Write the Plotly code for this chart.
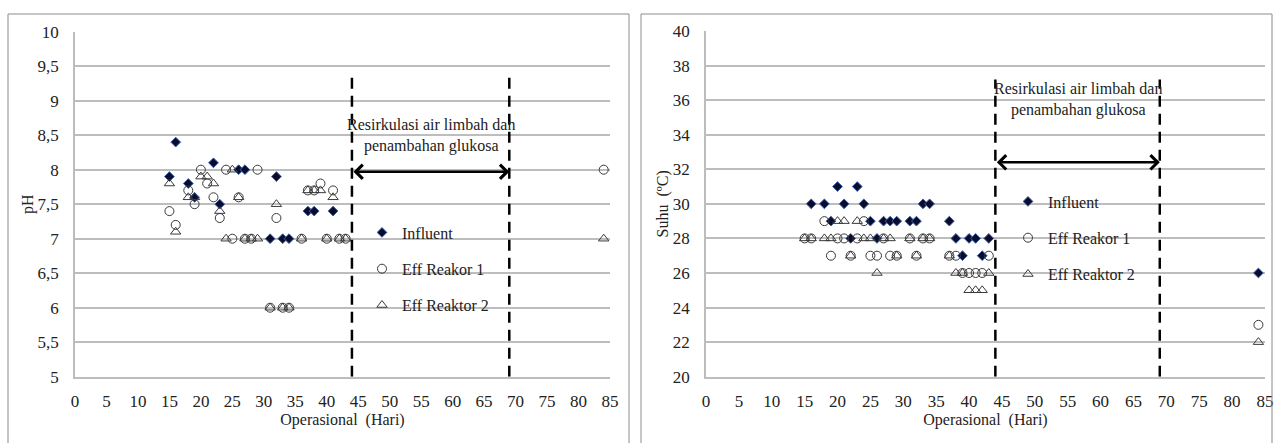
import plotly.graph_objects as go

# ---------------- data: pH chart ----------------
ph_inf_day = [15, 16, 18, 19, 22, 23, 26, 27, 31, 32, 33, 34, 37, 38, 41]
ph_inf_val = [7.9, 8.4, 7.8, 7.6, 8.1, 7.5, 8.0, 8.0, 7.0, 7.9, 7.0, 7.0, 7.4, 7.4, 7.4]

ph_r1_day = [15, 16, 18, 19, 20, 21, 22, 23, 24, 25, 26, 27, 28, 29, 31, 32, 33, 34,
             36, 37, 38, 39, 40, 41, 42, 43, 84]
ph_r1_val = [7.4, 7.2, 7.7, 7.5, 8.0, 7.8, 7.6, 7.3, 8.0, 7.0, 7.6, 7.0, 7.0, 8.0, 6.0, 7.3, 6.0, 6.0,
             7.0, 7.7, 7.7, 7.8, 7.0, 7.7, 7.0, 7.0, 8.0]

ph_r2_day = [15, 16, 18, 19, 20, 21, 22, 23, 24, 25, 26, 27, 28, 29, 31, 32, 33, 34,
             36, 37, 38, 39, 40, 41, 42, 43, 84]
ph_r2_val = [7.8, 7.1, 7.6, 7.6, 7.9, 7.9, 7.8, 7.4, 7.0, 8.0, 7.6, 7.0, 7.0, 7.0, 6.0, 7.5, 6.0, 6.0,
             7.0, 7.7, 7.7, 7.7, 7.0, 7.6, 7.0, 7.0, 7.0]

# ---------------- data: temperature chart ----------------
t_inf_day = [16, 18, 19, 20, 21, 22, 23, 24, 25, 26, 27, 28, 29, 31, 32, 33, 34,
             37, 38, 39, 40, 41, 42, 43, 84]
t_inf_val = [30, 30, 29, 31, 30, 28, 31, 30, 29, 28, 29, 29, 29, 29, 29, 30, 30,
             29, 28, 27, 28, 28, 27, 28, 26]

t_r1_day = [15, 16, 18, 19, 20, 21, 22, 23, 24, 25, 26, 27, 28, 29, 31, 32, 33, 34,
            37, 38, 39, 40, 41, 42, 43, 84]
t_r1_val = [28, 28, 29, 27, 28, 28, 27, 28, 29, 27, 27, 28, 27, 27, 28, 27, 28, 28,
            27, 27, 26, 26, 26, 26, 27, 23]

t_r2_day = [15, 16, 18, 19, 20, 21, 22, 23, 24, 25, 26, 27, 28, 29, 31, 32, 33, 34,
            37, 38, 39, 40, 41, 42, 43, 84]
t_r2_val = [28, 28, 28, 28, 29, 29, 27, 29, 28, 28, 26, 28, 28, 27, 28, 27, 28, 28,
            27, 26, 26, 25, 25, 25, 26, 22]

# ---------------- labels ----------------
series_names = ["Influent", "Eff Reakor 1", "Eff Reaktor 2"]
x_ticks = list(range(0, 90, 5))
ph_ticks = [5, 5.5, 6, 6.5, 7, 7.5, 8, 8.5, 9, 9.5, 10]
ph_tick_text = ["5", "5,5", "6", "6,5", "7", "7,5", "8", "8,5", "9", "9,5", "10"]
t_ticks = [20, 22, 24, 26, 28, 30, 32, 34, 36, 38, 40]
phase_days = [44, 69]
note_text = "Resirkulasi air limbah dan<br>penambahan glukosa"

FONT = "Liberation Serif"
TXT = "#222222"
GRID = "#bdbdbd"
W, H = 1277, 443

fig = go.Figure()

styles = [
    dict(symbol="diamond", size=7.5, color="#0b0b2e", line=dict(color="#3a62a8", width=1)),
    dict(symbol="circle-open", size=9, color="#3a3a3a", line=dict(width=1)),
    dict(symbol="triangle-up-open", size=9, color="#3a3a3a", line=dict(width=1)),
]

left_sets = [(ph_inf_day, ph_inf_val), (ph_r1_day, ph_r1_val), (ph_r2_day, ph_r2_val)]
right_sets = [(t_inf_day, t_inf_val), (t_r1_day, t_r1_val), (t_r2_day, t_r2_val)]

for i, (d, v) in enumerate(left_sets):
    fig.add_trace(go.Scatter(x=d, y=v, mode="markers", name=series_names[i],
                             marker=styles[i], xaxis="x", yaxis="y",
                             legend="legend", legendgroup="L%d" % i))
for i, (d, v) in enumerate(right_sets):
    fig.add_trace(go.Scatter(x=d, y=v, mode="markers", name=series_names[i],
                             marker=styles[i], xaxis="x2", yaxis="y2",
                             legend="legend2", legendgroup="R%d" % i))


def px_x(p):
    return p / W


def px_y(p):
    return (H - p) / H


def tfont(size=17):
    return dict(family=FONT, size=size, color=TXT)


def xaxis_cfg(domain, anchor):
    return dict(domain=domain, range=[0, 85], tickvals=x_ticks, anchor=anchor,
                automargin=False,
                showgrid=False, showline=True, linecolor=GRID, linewidth=1.5,
                zeroline=False, ticks="", tickfont=tfont(17), ticklabelstandoff=8,
                title=dict(text="Operasional\u00a0\u00a0(Hari)", standoff=2, font=tfont(16)))


def yaxis_cfg(domain, anchor, rng, vals, text, title, standoff):
    cfg = dict(domain=domain, range=rng, tickvals=vals, anchor=anchor,
               automargin=False,
               showgrid=True, gridcolor=GRID, gridwidth=1.5,
               showline=True, linecolor=GRID, linewidth=1.5,
               zeroline=False, ticks="", tickfont=tfont(17), ticklabelstandoff=11,
               title=dict(text=title, standoff=standoff, font=tfont(16)))
    if text is not None:
        cfg["ticktext"] = text
    return cfg


fig.update_layout(
    template="none",
    width=W, height=H,
    autosize=False,
    margin=dict(l=0, r=0, t=0, b=0, pad=0, autoexpand=False),
    paper_bgcolor="white", plot_bgcolor="white",
    showlegend=True,
    font=tfont(16),
    xaxis=xaxis_cfg([px_x(75), px_x(610)], "y"),
    yaxis=yaxis_cfg([px_y(376.7), px_y(31.7)], "x", [5, 10], ph_ticks, ph_tick_text, "pH", 0),
    xaxis2=xaxis_cfg([px_x(706), px_x(1265)], "y2"),
    yaxis2=yaxis_cfg([px_y(376.7), px_y(31)], "x2", [20, 40], t_ticks, None,
                     "Suhu\u00a0\u00a0(ºC)", 0),
    legend=dict(x=px_x(362), y=px_y(215.5), xanchor="left", yanchor="top",
                bgcolor="rgba(0,0,0,0)", borderwidth=0, tracegroupgap=12.5, font=tfont(16)),
    legend2=dict(x=px_x(1008), y=px_y(184.5), xanchor="left", yanchor="top",
                 bgcolor="rgba(0,0,0,0)", borderwidth=0, tracegroupgap=12.5, font=tfont(16)),
)

shapes = []
# outer chart frames
shapes.append(dict(type="rect", xref="paper", yref="paper", x0=px_x(8), x1=px_x(629),
                   y0=-0.1, y1=px_y(14), line=dict(color="#8c8c8c", width=1)))
shapes.append(dict(type="rect", xref="paper", yref="paper", x0=px_x(641), x1=px_x(1272),
                   y0=-0.1, y1=px_y(14), line=dict(color="#8c8c8c", width=1)))
# phase boundaries
for d in phase_days:
    shapes.append(dict(type="line", xref="x", yref="y", x0=d, x1=d, y0=5, y1=9.37,
                       line=dict(color="black", width=2.5, dash="11px,7px")))
    shapes.append(dict(type="line", xref="x2", yref="y2", x0=d, x1=d, y0=20, y1=37.2,
                       line=dict(color="black", width=2.5, dash="11px,7px")))
fig.update_layout(shapes=shapes)

annotations = [
    dict(xref="x", yref="y", x=phase_days[1], y=7.97, ax=phase_days[0], ay=7.97,
         axref="x", ayref="y", text="", showarrow=True, arrowhead=4, arrowsize=1.1,
         arrowwidth=2.5, arrowside="end+start", arrowcolor="black"),
    dict(xref="x2", yref="y2", x=phase_days[1], y=32.4, ax=phase_days[0], ay=32.4,
         axref="x2", ayref="y2", text="", showarrow=True, arrowhead=4, arrowsize=1.1,
         arrowwidth=2.5, arrowside="end+start", arrowcolor="black"),
    dict(xref="x", yref="y", x=56.5, y=8.5, text=note_text, showarrow=False, font=tfont(16)),
    dict(xref="x2", yref="y2", x=56.5, y=36.05, text=note_text, showarrow=False, font=tfont(16)),
]
fig.update_layout(annotations=annotations)

page_fix = ("document.documentElement.style.margin='0';document.documentElement.style.padding='0';"
            "document.documentElement.style.overflow='hidden';"
            "document.body.style.margin='0';document.body.style.padding='0';"
            "document.body.style.overflow='hidden';")

fig.write_html("out.html", post_script=page_fix,
               config={"responsive": False, "displayModeBar": False})
